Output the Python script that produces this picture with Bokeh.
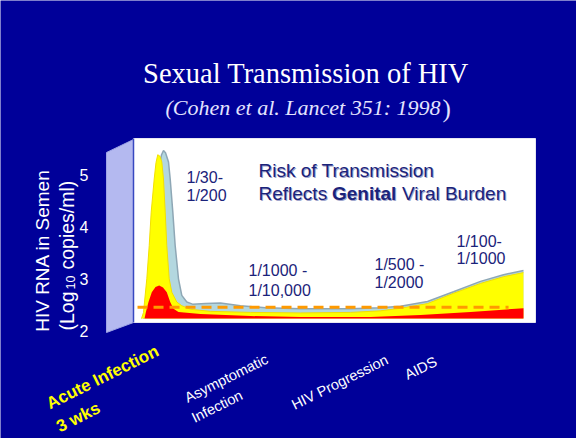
import math
from bokeh.plotting import figure
from bokeh.models import Range1d, Label
from bokeh.core.properties import value
from bokeh.embed import file_html
from bokeh.resources import INLINE

# ---------------- data ----------------
y_ticks = [2, 3, 4, 5]
baseline = 2.23
threshold = 2.45
threshold_x = [1.0, 93.3]

# back layer (light blue ribbon)
blue_x = [2.49, 3.23, 3.98, 4.60, 5.22, 5.97, 6.59, 6.97, 7.46, 7.96, 8.71, 9.13, 9.78,
          10.37, 11.19, 12.01, 13.26, 14.68, 17.91, 21.64, 26.62, 32.84, 41.54, 53.98,
          61.44, 66.42, 73.13, 79.60, 86.32, 92.04, 97.01]
blue_v = [2.23, 2.48, 3.01, 3.64, 4.28, 4.90, 5.25, 5.40, 5.48, 5.44, 5.26, 4.93, 4.29,
          3.64, 3.00, 2.68, 2.55, 2.51, 2.52, 2.53, 2.48, 2.44, 2.42, 2.42,
          2.44, 2.47, 2.56, 2.75, 2.95, 3.08, 3.16]

# middle layer (yellow)
yellow_x = [1.99, 2.49, 2.74, 3.31, 3.91, 4.40, 5.15, 5.60, 6.04, 6.59, 7.04, 7.46, 7.89,
            8.28, 8.88, 9.53, 10.77, 12.01, 14.18, 19.15, 29.10, 41.50, 54.00, 61.40,
            66.40, 73.10, 79.60, 86.30, 92.00, 97.00]
yellow_v = [2.23, 2.35, 2.55, 3.00, 3.64, 4.29, 4.93, 5.25, 5.40, 5.37, 5.26, 4.93, 4.29,
            3.64, 3.00, 2.74, 2.55, 2.48, 2.41, 2.37, 2.35, 2.34, 2.35, 2.38,
            2.43, 2.52, 2.72, 2.91, 3.04, 3.12]

# front layer (red)
red_x = [2.74, 3.06, 3.73, 4.55, 5.47, 6.39, 7.34, 8.28, 9.13, 9.95, 11.19, 16.67,
         29.10, 41.54, 58.96, 71.39, 83.83, 97.01]
red_v = [2.23, 2.35, 2.55, 2.74, 2.84, 2.87, 2.83, 2.74, 2.55, 2.42, 2.36, 2.32,
         2.28, 2.26, 2.26, 2.30, 2.36, 2.43]

title_text = "Sexual Transmission of HIV"
subtitle_text = "(Cohen et al. Lancet 351: 1998"
subtitle_close = ")"
headline = ["Risk of Transmission", "Reflects", "Genital", "Viral Burden"]
risk_labels = [["1/30-", "1/200"], ["1/1000 -", "1/10,000"],
               ["1/500 -", "1/2000"], ["1/100-", "1/1000"]]
phase_labels = [["Acute Infection", "3 wks"], ["Asymptomatic", "Infection"],
                ["HIV Progression"], ["AIDS"]]
ylabel_line1 = "HIV RNA in Semen"
ylabel_parts = ["(Log", "10", "copies/ml)"]

# ---------------- layout helpers (page pixels -> data) ----------------
W, H = 576, 438


def X(px):
    return (px - 133) / 4.02


def V(py):
    return 2 + (330 - py) / 51.7


BG = "#000099"
NAVY = "#1b237a"
SANS = "Liberation Sans"
SERIF = "Liberation Serif"

p = figure(width=W, height=H, output_backend="svg", toolbar_location=None,
           x_range=Range1d(X(0), X(W)), y_range=Range1d(V(H), V(0)),
           x_axis_type=None, y_axis_type=None, min_border=0)
p.background_fill_color = BG
p.border_fill_color = BG
p.outline_line_color = None
p.grid.visible = False

# wall and white panel
p.patch([X(106), X(133), X(133), X(106)], [V(152), V(139), V(322), V(332)],
        fill_color="#b4b9f0", line_color="#9ea4e6", line_width=1)
p.quad(left=[X(133)], right=[X(535)], bottom=[V(322)], top=[V(138)],
       fill_color="white", line_color="#e6e6f2", line_width=1)
p.segment(x0=[X(133)], y0=[V(322)], x1=[X(133)], y1=[V(138)],
          line_color="#3848c0", line_width=1.5)

# areas
p.varea(x=blue_x, y1=baseline, y2=blue_v, fill_color="#b3d7df")
p.line(blue_x, blue_v, line_color="#8ea7b5", line_width=1.5)
p.varea(x=yellow_x, y1=baseline, y2=yellow_v, fill_color="#ffff00")
p.line(yellow_x, yellow_v, line_color="#f2e000", line_width=1)
p.varea(x=red_x, y1=baseline, y2=red_v, fill_color="#ff0000")
p.line(x=threshold_x, y=[threshold, threshold], line_color="#ff9a00",
       line_width=3, line_dash="10 6")

# y tick labels
p.text(x=[X(88)] * len(y_ticks), y=y_ticks, text=[str(t) for t in y_ticks],
       text_align="right", text_baseline="middle", text_color="white",
       text_font=value(SANS), text_font_size="16px")


def lab(text, px, py, size, color, font=SANS, style="normal", align="left",
        baseline_="middle", angle=0.0):
    p.add_layout(Label(x=X(px), y=V(py), text=text, text_color=color,
                       text_font=font, text_font_size=size, text_font_style=style,
                       text_align=align, text_baseline=baseline_, angle=angle))


# titles
lab(title_text, 305.5, 73.3, "28.5px", "white", font=SERIF, align="center",
    baseline_="alphabetic")
lab(subtitle_text, 440, 106.7, "22px", "#e4e4ff", font=SERIF, style="italic",
    align="right", baseline_="alphabetic")
lab(subtitle_close, 442, 107.5, "25px", "#e4e4ff", font=SERIF, baseline_="alphabetic")

# headline with faint shadow
for dx, col in ((1, "#a0a6cc"), (0, NAVY)):
    lab(headline[0], 258 + dx, 169.5 + dx, "19px", col)
    lab(headline[1], 258 + dx, 192.5 + dx, "19px", col)
    lab(headline[2], 331.5 + dx, 192.5 + dx, "19px", col, style="bold")
    lab(headline[3], 401.5 + dx, 192.5 + dx, "19px", col)

# risk labels
risk_pos = [(186, 176.5, 195), (248, 270, 289.5), (374, 263.5, 282), (456, 240.5, 257.5)]
for (l1, l2), (px, py1, py2) in zip(risk_labels, risk_pos):
    lab(l1, px, py1, "16px", NAVY)
    lab(l2, px, py2, "16px", NAVY)

# phase labels (slanted)
ang = 0.46
phase_pos = [[(47, 404), (57, 427)], [(185, 398), (192, 418)], [(292, 405)], [(405, 375)]]
for i, (lines, pos) in enumerate(zip(phase_labels, phase_pos)):
    for t, (px, py) in zip(lines, pos):
        if i == 0:
            lab(t, px, py, "17px", "#ffff00", style="bold", baseline_="alphabetic", angle=ang)
        else:
            lab(t, px, py, "14.5px", "white", baseline_="alphabetic", angle=ang)

# y axis title (rotated)
lab(ylabel_line1, 41.7, 250, "19px", "white", align="center", baseline_="alphabetic",
    angle=math.pi / 2)
lab(ylabel_parts[0], 66, 330, "19.5px", "white", baseline_="alphabetic", angle=math.pi / 2)
lab(ylabel_parts[1], 69.5, 289, "12.5px", "white", baseline_="alphabetic", angle=math.pi / 2)
lab(ylabel_parts[2], 66, 269, "19.5px", "white", baseline_="alphabetic", angle=math.pi / 2)

open("out.html", "w").write(file_html(p, INLINE))
